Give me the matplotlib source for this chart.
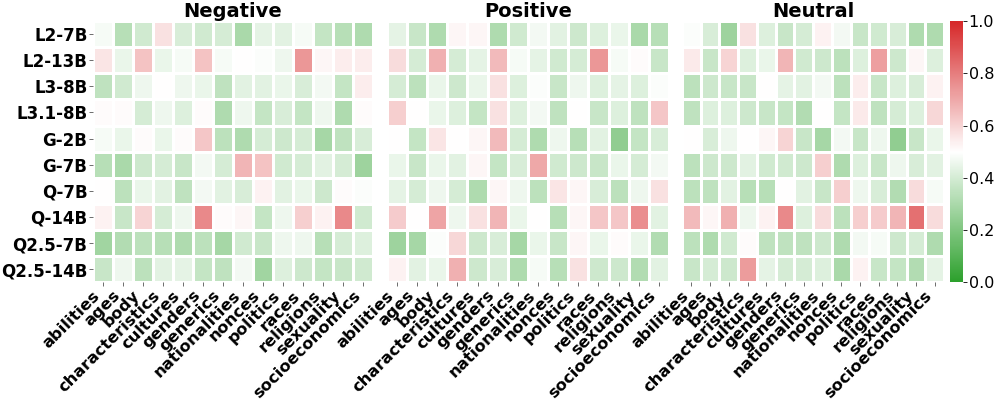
import numpy as np
import matplotlib
matplotlib.use("Agg")
import matplotlib.pyplot as plt
from matplotlib.colors import LinearSegmentedColormap

models = ["L2-7B", "L2-13B", "L3-8B", "L3.1-8B", "G-2B", "G-7B", "Q-7B", "Q-14B", "Q2.5-7B", "Q2.5-14B"]
categories = ["abilities", "ages", "body", "characteristics", "cultures", "genders", "generics",
              "nationalities", "nonces", "politics", "races", "religions", "sexuality", "socioeconomics"]

negative = [
    [0.48, 0.33, 0.39, 0.57, 0.41, 0.39, 0.40, 0.30, 0.44, 0.43, 0.48, 0.36, 0.33, 0.31],
    [0.56, 0.45, 0.64, 0.45, 0.48, 0.64, 0.48, 0.50, 0.49, 0.46, 0.74, 0.52, 0.54, 0.54],
    [0.35, 0.39, 0.46, 0.50, 0.46, 0.45, 0.35, 0.43, 0.43, 0.45, 0.41, 0.47, 0.36, 0.54],
    [0.51, 0.51, 0.40, 0.46, 0.42, 0.51, 0.31, 0.46, 0.36, 0.41, 0.36, 0.46, 0.31, 0.51],
    [0.48, 0.45, 0.51, 0.45, 0.51, 0.63, 0.34, 0.31, 0.40, 0.38, 0.40, 0.29, 0.35, 0.41],
    [0.33, 0.30, 0.38, 0.40, 0.37, 0.47, 0.40, 0.67, 0.64, 0.39, 0.40, 0.43, 0.40, 0.27],
    [0.50, 0.34, 0.45, 0.43, 0.35, 0.47, 0.43, 0.41, 0.53, 0.43, 0.45, 0.38, 0.51, 0.49],
    [0.53, 0.37, 0.60, 0.40, 0.46, 0.77, 0.51, 0.52, 0.36, 0.46, 0.61, 0.53, 0.77, 0.39],
    [0.28, 0.32, 0.34, 0.33, 0.31, 0.34, 0.29, 0.39, 0.37, 0.46, 0.46, 0.33, 0.40, 0.42],
    [0.37, 0.46, 0.34, 0.43, 0.44, 0.36, 0.35, 0.47, 0.28, 0.42, 0.38, 0.36, 0.37, 0.39],
]

positive = [
    [0.44, 0.37, 0.31, 0.52, 0.52, 0.31, 0.39, 0.47, 0.43, 0.38, 0.42, 0.45, 0.30, 0.33],
    [0.58, 0.40, 0.68, 0.40, 0.44, 0.66, 0.48, 0.44, 0.39, 0.40, 0.74, 0.48, 0.51, 0.37],
    [0.40, 0.34, 0.45, 0.38, 0.45, 0.57, 0.42, 0.49, 0.37, 0.46, 0.42, 0.44, 0.42, 0.49],
    [0.61, 0.50, 0.45, 0.42, 0.36, 0.57, 0.42, 0.47, 0.35, 0.50, 0.37, 0.42, 0.35, 0.63],
    [0.50, 0.36, 0.56, 0.50, 0.52, 0.66, 0.40, 0.31, 0.46, 0.33, 0.43, 0.24, 0.36, 0.41],
    [0.45, 0.37, 0.45, 0.43, 0.52, 0.36, 0.41, 0.70, 0.39, 0.38, 0.37, 0.45, 0.40, 0.47],
    [0.44, 0.40, 0.46, 0.40, 0.31, 0.52, 0.46, 0.34, 0.56, 0.52, 0.41, 0.34, 0.46, 0.57],
    [0.62, 0.50, 0.71, 0.46, 0.57, 0.67, 0.45, 0.50, 0.33, 0.52, 0.63, 0.63, 0.76, 0.43],
    [0.27, 0.29, 0.49, 0.59, 0.38, 0.41, 0.29, 0.45, 0.37, 0.52, 0.45, 0.51, 0.45, 0.32],
    [0.53, 0.43, 0.45, 0.68, 0.38, 0.41, 0.31, 0.48, 0.33, 0.57, 0.38, 0.38, 0.32, 0.43],
]

neutral = [
    [0.49, 0.41, 0.27, 0.57, 0.42, 0.37, 0.40, 0.53, 0.47, 0.37, 0.39, 0.41, 0.31, 0.31],
    [0.55, 0.37, 0.60, 0.42, 0.45, 0.67, 0.39, 0.38, 0.34, 0.42, 0.72, 0.38, 0.52, 0.42],
    [0.34, 0.38, 0.37, 0.37, 0.50, 0.44, 0.43, 0.47, 0.34, 0.54, 0.37, 0.42, 0.41, 0.53],
    [0.35, 0.42, 0.42, 0.38, 0.37, 0.36, 0.32, 0.50, 0.36, 0.55, 0.35, 0.40, 0.42, 0.59],
    [0.50, 0.41, 0.46, 0.50, 0.52, 0.60, 0.37, 0.29, 0.47, 0.37, 0.46, 0.24, 0.37, 0.45],
    [0.34, 0.38, 0.38, 0.43, 0.39, 0.39, 0.38, 0.61, 0.31, 0.42, 0.37, 0.46, 0.41, 0.43],
    [0.34, 0.35, 0.43, 0.33, 0.33, 0.50, 0.43, 0.37, 0.61, 0.46, 0.41, 0.32, 0.58, 0.48],
    [0.66, 0.52, 0.68, 0.46, 0.53, 0.77, 0.42, 0.58, 0.34, 0.61, 0.62, 0.67, 0.83, 0.58],
    [0.34, 0.31, 0.39, 0.51, 0.35, 0.35, 0.35, 0.38, 0.31, 0.47, 0.48, 0.38, 0.40, 0.31],
    [0.37, 0.40, 0.38, 0.73, 0.44, 0.40, 0.40, 0.42, 0.30, 0.53, 0.37, 0.36, 0.32, 0.44],
]

panels = [("Negative", negative), ("Positive", positive), ("Neutral", neutral)]

cmap = LinearSegmentedColormap.from_list("gwr", ["#2ca02c", "white", "#d62728"])

fig = plt.figure(figsize=(9.97, 4.05), dpi=100)
bottom, height = 0.303, 0.645
lefts = [0.0933, 0.388, 0.684]
widths = [0.281, 0.283, 0.263]

for i, (title, data) in enumerate(panels):
    ax = fig.add_axes([lefts[i], bottom, widths[i], height])
    arr = np.array(data)
    mesh = ax.pcolormesh(arr, cmap=cmap, vmin=0, vmax=1, edgecolors="white", linewidth=0.8)
    ax.set_xlim(0, arr.shape[1])
    ax.set_ylim(arr.shape[0], 0)
    ax.set_xticks(np.arange(len(categories)) + 0.5)
    ax.set_xticklabels(categories, rotation=45, ha="right", fontsize=11.7, fontweight="bold")
    ax.set_yticks(np.arange(len(models)) + 0.5)
    ax.set_yticklabels(models if i == 0 else [], fontsize=12, fontweight="bold")
    ax.tick_params(axis="both", length=3, width=0.6, color="#555555", pad=1)
    if i > 0:
        ax.tick_params(axis="y", length=0)
    for s in ax.spines.values():
        s.set_visible(False)
    ax.set_title(title, fontsize=14, fontweight="bold", pad=2)

cax = fig.add_axes([0.953, bottom, 0.013, height])
cb = fig.colorbar(mesh, cax=cax)
cb.outline.set_visible(False)
cb.set_ticks([0.0, 0.2, 0.4, 0.6, 0.8, 1.0])
cb.ax.tick_params(labelsize=11.5, length=3, width=0.6, pad=1)

plt.savefig("out.png", dpi=100)
